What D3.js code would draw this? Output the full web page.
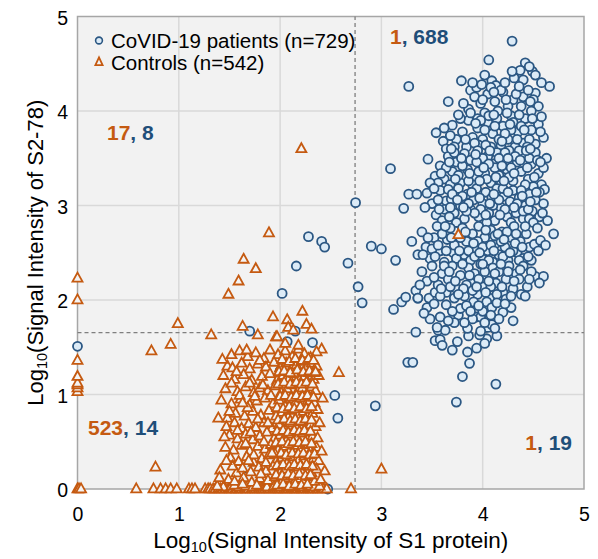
<!DOCTYPE html>
<html><head><meta charset="utf-8">
<script src="https://cdn.jsdelivr.net/npm/d3@7/dist/d3.min.js"></script>
<style>body{margin:0;background:#fff}svg{display:block}text{font-family:"Liberation Sans",Arial,sans-serif}</style>
</head><body><svg id="c" width="598" height="559"></svg>
<script>
// ---------- DATA ----------
const xTicks = [0,1,2,3,4,5];
const yTicks = [0,1,2,3,4,5];
const cutX = 2.74, cutY = 1.654;
const legendLabels = ["CoVID-19 patients (n=729)", "Controls (n=542)"];
const quadLabels = [
  {q:"UR", ctrl:"1", pat:"688"},
  {q:"UL", ctrl:"17", pat:"8"},
  {q:"LL", ctrl:"523", pat:"14"},
  {q:"LR", ctrl:"1", pat:"19"}
];
// Patients: scattered points
const patientsScatter = [
[0,1.51],[1.70,1.67],[2.15,1.67],[2.02,2.07],[2.16,2.36],[2.28,2.67],[2.41,2.62],[2.44,2.56],[2.67,2.39],
[2.07,1.56],[2.32,1.55],[2.00,1.25],[2.07,1.19],[2.15,1.19],[2.32,1.19],[2.54,0.99],[2.57,0.75],[2.17,0.59],
[1.67,0.22],[2.47,0.0],[2.25,0.90],[2.10,0.45],
[2.745,3.03],[2.77,2.14],[2.81,1.97],[2.90,2.57],[3.00,2.54],[3.09,3.39],[3.14,2.42],[3.12,1.90],[3.20,1.98],[3.24,2.03],
[2.94,0.88],[3.74,0.92],[4.13,1.11],[3.80,1.19],[3.87,1.33],[3.26,1.34],[3.31,1.34],[3.85,1.45],[3.94,1.49],[3.70,1.47],
[3.75,1.56],[3.53,1.57],[3.58,1.58],[4.04,1.59],[4.14,1.62],[3.97,1.63],[3.86,1.62],[3.60,1.52],[4.02,1.54]
];
// Patients: main cluster (upper right)
const patientsTop = [
[4.29,4.74],[4.06,4.54],[4.42,4.51],[4.37,4.43],[4.49,4.42],[4.31,4.35],[4.40,4.33],[4.46,4.47],[4.52,4.38],[3.79,4.32],
[4.66,4.26],[4.02,4.38],[4.09,4.32],[3.27,4.26],[3.88,4.22],[3.94,4.25],[4.13,4.27],[4.20,4.20],[4.40,4.15],[4.52,4.19],
[4.50,4.12],[4.30,4.12],[4.58,4.30],
[3.66,4.10],[3.86,4.02],[3.92,4.15],[3.98,4.08],[4.05,4.18],[4.12,4.10],[4.18,4.22],[4.25,4.05],[4.33,4.18],[4.45,4.22],
[4.55,4.05],[4.48,4.00],[4.02,3.98],[4.15,4.00],[4.28,3.95],[4.38,4.05],[3.95,3.92],[4.22,4.30],[4.08,4.25],[3.99,4.28]
];
const patientsUpper = [
[3.54,3.77],[3.61,3.68],[3.64,3.60],[3.74,3.70],[3.70,3.85],[3.80,3.78],[3.86,3.90],[3.90,3.72],[3.95,3.82],[4.00,3.70],
[4.05,3.88],[4.10,3.76],[4.14,3.92],[4.20,3.84],[4.25,3.70],[4.30,3.88],[4.35,3.78],[4.42,3.92],[4.48,3.80],[4.55,3.86],
[4.60,3.72],[4.52,3.65],[4.40,3.66],[4.32,3.62],[4.18,3.64],[4.08,3.62],[3.96,3.64],[3.84,3.62],[3.78,3.92],[3.88,3.98],
[4.24,3.98],[4.46,3.70],[4.02,3.80],[4.16,3.70],[4.36,3.96],[3.92,3.66],[4.28,3.80],[4.12,3.84],[3.72,3.62],[4.58,3.94],
[4.44,3.62],[3.68,3.74],[4.06,3.95],[4.38,3.84],[3.98,3.90],[4.22,3.76],
[3.46,3.49],[3.53,3.31],[3.58,3.42],[3.62,3.28],[3.66,3.52],[3.70,3.36],[3.74,3.46],[3.78,3.24],[3.82,3.55],[3.85,3.38],
[3.88,3.48],[3.92,3.30],[3.95,3.58],[3.98,3.42],[4.02,3.34],[4.05,3.52],[4.08,3.24],[4.10,3.44],[4.14,3.56],[4.16,3.32],
[4.20,3.48],[4.24,3.38],[4.26,3.58],[4.30,3.26],[4.34,3.46],[4.38,3.36],[4.40,3.54],[4.45,3.28],[4.48,3.44],[4.52,3.56],
[4.55,3.34],[4.60,3.40],[4.63,3.50],[4.58,3.22],[4.50,3.20],[4.42,3.22],[4.36,3.58],[4.28,3.40],[4.18,3.22],[4.12,3.40],
[4.00,3.50],[3.90,3.22],[3.80,3.42],[3.72,3.56],[3.64,3.40],[3.56,3.24],[4.04,3.28],[4.22,3.56],[3.96,3.36],[4.32,3.52],
[4.46,3.50],[3.86,3.26],[4.06,3.44],[4.26,3.30],[4.44,3.40],[3.76,3.32],[3.68,3.22],[4.54,3.48],[3.94,3.46],[4.16,3.50]
];
const patientsMiddle = [
[3.22,2.97],[3.27,3.12],[3.35,3.12],[3.45,3.13],[3.48,3.24],[3.50,3.02],[3.54,2.90],[3.58,3.16],[3.60,2.84],[3.64,3.05],
[3.66,3.17],[3.69,3.07],[3.72,2.92],[3.76,3.18],[3.78,3.00],[3.82,2.86],[3.85,3.12],[3.88,2.96],[3.91,3.06],[3.94,3.18],
[3.96,2.88],[4.00,3.02],[4.03,3.14],[4.06,2.92],[4.09,3.08],[4.12,2.84],[4.14,3.18],[4.18,2.98],[4.21,3.10],[4.24,2.88],
[4.27,3.04],[4.30,3.16],[4.33,2.92],[4.36,3.08],[4.40,2.86],[4.42,3.00],[4.46,3.12],[4.49,2.94],[4.52,3.06],[4.56,2.88],
[4.60,3.02],[4.61,3.17],[4.64,2.84],[3.62,2.96],[3.74,2.82],[3.86,3.02],[3.98,2.96],[4.10,3.00],[4.22,2.96],[4.34,3.02],
[4.46,2.86],[4.56,3.14],[3.80,3.10],[3.92,2.92],[4.04,2.82],[4.16,3.06],[4.28,2.82],[4.38,3.16],[4.50,2.82],[3.70,3.12],
[3.56,3.06],[4.20,3.18],[3.84,2.94],[4.40,2.94],
[3.30,2.62],[3.36,2.48],[3.40,2.72],[3.44,2.56],[3.48,2.44],[3.52,2.66],[3.55,2.78],[3.58,2.52],[3.62,2.40],[3.65,2.64],
[3.68,2.76],[3.71,2.50],[3.72,2.58],[3.80,2.76],[3.82,2.48],[3.84,2.62],[3.88,2.42],[3.90,2.70],[3.93,2.54],[3.96,2.78],
[3.99,2.44],[4.02,2.66],[4.05,2.52],[4.08,2.74],[4.10,2.40],[4.13,2.60],[4.16,2.48],[4.19,2.72],[4.22,2.56],[4.25,2.42],
[4.28,2.66],[4.31,2.78],[4.34,2.50],[4.37,2.62],[4.40,2.44],[4.43,2.70],[4.46,2.56],[4.51,2.59],[4.57,2.63],[4.70,2.70],
[4.54,2.76],[4.48,2.42],[3.95,2.62],[4.06,2.42],[4.18,2.62],[4.30,2.52],[4.42,2.78],[3.86,2.52],[3.74,2.44],[3.64,2.52],
[3.50,2.54],[4.00,2.56],[4.12,2.68],[4.24,2.72],[4.36,2.42],[3.92,2.46],[4.20,2.46],[3.78,2.66],[3.60,2.70],[4.08,2.58],[4.32,2.60]
];
const patientsLower = [
[3.34,2.10],[3.36,2.02],[3.47,2.02],[3.53,2.08],[3.64,2.08],[3.40,2.30],[3.45,2.20],[3.50,2.36],[3.56,2.16],[3.60,2.28],
[3.66,2.22],[3.70,2.36],[3.74,2.12],[3.78,2.26],[3.82,2.04],[3.86,2.34],[3.89,2.18],[3.92,2.28],[3.95,2.06],[3.98,2.38],
[4.01,2.14],[4.04,2.26],[4.07,2.02],[4.10,2.34],[4.13,2.18],[4.16,2.30],[4.20,2.08],[4.23,2.22],[4.26,2.36],[4.30,2.12],
[4.33,2.28],[4.36,2.22],[4.40,2.36],[4.44,2.14],[4.52,2.25],[4.60,2.25],[4.23,2.01],[4.48,2.30],[3.58,2.04],[3.72,2.02],
[3.84,2.16],[3.96,2.22],[4.08,2.14],[4.18,2.38],[4.28,2.04],[3.62,2.36],[3.80,2.38],[4.02,2.30],[4.14,2.06],[3.90,2.10],
[4.38,2.06],[3.68,2.14],
[3.34,1.66],[3.56,1.68],[3.63,1.68],[3.55,1.71],[3.85,1.70],[4.05,1.71],[4.09,1.74],[3.94,1.82],[3.98,1.82],[3.90,1.80],
[3.76,1.84],[3.78,1.91],[3.64,1.95],[3.91,1.98],[4.04,1.98],[4.09,1.92],[4.14,1.97],[4.20,1.87],[3.45,1.92],[3.70,1.88],
[3.84,1.94],[4.00,1.88],[4.16,1.80],[4.28,1.92],[4.30,1.78],[4.02,1.76],[3.72,1.76],[3.48,1.80],[3.36,2.02],[3.98,1.67]
];
const patientsExtra = [
[3.62,3.82],[3.76,3.96],[3.83,3.70],[3.93,3.87],[4.03,3.64],[4.11,3.96],[4.19,3.68],[4.27,3.86],[4.34,3.70],[4.41,3.80],
[4.49,3.92],[4.57,3.78],[3.81,4.08],[3.90,4.30],[4.00,4.12],[4.11,4.20],[4.23,4.12],[4.36,4.26],[4.47,4.10],[4.29,4.42],
[3.59,3.34],[3.67,3.46],[3.73,3.28],[3.79,3.50],[3.87,3.34],[3.93,3.54],[4.01,3.40],[4.07,3.58],[4.13,3.30],[4.19,3.42],
[4.25,3.50],[4.31,3.34],[4.37,3.48],[4.43,3.58],[4.51,3.30],[4.57,3.46],[4.47,3.60],[3.97,3.26],[4.21,3.26],[3.69,3.60],
[3.43,2.98],[3.52,3.18],[3.57,2.96],[3.67,2.88],[3.75,3.06],[3.81,2.98],[3.89,3.14],[3.97,3.08],[4.03,2.90],[4.11,3.12],
[4.17,2.90],[4.25,3.14],[4.31,2.98],[4.39,3.10],[4.45,2.96],[4.53,3.14],[4.59,2.92],[3.68,2.98],[4.07,3.02],[4.47,3.04],
[3.46,2.66],[3.56,2.58],[3.63,2.78],[3.69,2.66],[3.77,2.52],[3.83,2.72],[3.91,2.60],[3.97,2.50],[4.03,2.74],[4.11,2.52],
[4.15,2.70],[4.21,2.64],[4.27,2.50],[4.33,2.70],[4.39,2.56],[4.45,2.46],[4.55,2.52],[4.62,2.58],[3.53,2.46],[3.41,2.48],
[3.38,2.16],[3.52,2.24],[3.59,2.12],[3.67,2.30],[3.73,2.20],[3.81,2.12],[3.87,2.26],[3.94,2.14],[4.00,2.38],[4.06,2.20],
[4.12,2.28],[4.19,2.14],[4.25,2.30],[4.31,2.20],[4.37,2.32],[4.46,2.22],[4.56,2.18],[3.76,2.06],[4.03,2.08],[4.42,2.04],
[3.42,1.86],[3.58,1.82],[3.66,1.78],[3.82,1.76],[3.88,1.88],[3.96,1.94],[4.08,1.84],[4.22,1.96],[3.52,1.96],[4.12,1.70]
];
// Controls
const controlsAxis = [[0,0],[0.015,0],[0.035,0],[0,1.03],[0,1.07],[0,1.10],[0,1.12],[0,1.19],[0,1.36],[0,2.00],[0,2.23]];
const controlsScatter = [
[0.73,1.46],[0.92,1.53],[0.77,0.23],[0.99,1.75],[1.32,1.63],[1.96,1.61],[2.41,1.48],[2.58,1.23],[2.70,0],[3.00,0.21],[3.76,2.69],
[1.89,2.71],[1.64,2.43],[1.76,2.33],[1.59,2.20],[1.49,2.06],[1.63,1.72],[1.93,1.82],[2.22,1.88],[2.07,1.79],[2.26,1.74],
[2.08,1.71],[2.21,3.60],[2.31,1.69],[2.13,1.68],[1.78,1.63],[1.97,1.61]
];
const controlsBottom = [
[0.58,0],[0.75,0],[0.82,0],[0.87,0],[0.92,0],[0.98,0],[1.10,0],[1.13,0],[1.16,0],[1.26,0],[1.29,0],[1.31,0],[1.34,0],
[1.36,0],[1.39,0],[1.41,0],[1.43,0],[1.46,0],[1.49,0],[1.51,0],[1.53,0],[1.56,0],[1.57,0],[1.60,0],[1.62,0],[1.65,0],
[1.67,0],[1.69,0],[1.72,0],[1.74,0],[1.76,0],[1.79,0],[1.81,0],[1.83,0],[1.85,0],[1.88,0],[1.90,0],[1.93,0],[1.95,0],
[1.97,0],[1.99,0],[2.01,0],[2.04,0],[2.06,0],[2.08,0],[2.11,0],[2.13,0],[2.15,0],[2.17,0],[2.20,0],[2.22,0],[2.24,0],
[2.27,0],[2.29,0],[2.31,0],[2.33,0],[2.36,0],[2.38,0],[2.41,0],[2.43,0],[2.46,0],
[1.44,0.02],[1.52,0.03],[1.59,0.02],[1.66,0.03],[1.73,0.02],[1.80,0.03],[1.87,0.02],[1.94,0.03],[2.00,0.02],[2.07,0.03],
[2.12,0.02],[2.18,0.03],[2.23,0.02],[2.28,0.03],[2.34,0.02],[2.39,0.03],[1.38,0.03],[1.55,0.04],[1.78,0.04],[2.10,0.04]
];
const controlsBand = [
[1.52,1.42],[1.60,1.46],[1.68,1.40],[1.76,1.44],[1.84,1.38],[1.90,1.47],[1.98,1.42],[2.05,1.46],[2.12,1.40],[2.18,1.48],[2.24,1.43],[2.30,1.39],[2.36,1.45],
[1.48,1.30],[1.53,1.28],[1.62,1.33],[1.70,1.27],[1.78,1.32],[1.86,1.29],[1.94,1.34],[2.00,1.28],[2.06,1.33],[2.11,1.27],[2.16,1.31],[2.21,1.35],[2.26,1.28],[2.31,1.33],[2.36,1.30],
[1.44,1.20],[1.55,1.16],[1.64,1.21],[1.72,1.15],[1.82,1.19],[1.90,1.22],[1.97,1.15],[2.03,1.20],[2.09,1.17],[2.14,1.22],[2.19,1.15],[2.24,1.19],[2.28,1.23],[2.33,1.16],[2.38,1.20],
[1.46,1.06],[1.58,1.03],[1.66,1.08],[1.74,1.02],[1.80,1.07],[1.88,1.04],[1.95,1.09],[2.01,1.02],[2.07,1.06],[2.12,1.10],[2.17,1.03],[2.22,1.07],[2.27,1.01],[2.31,1.08],[2.35,1.04],
[1.42,0.94],[1.52,0.90],[1.61,0.95],[1.70,0.89],[1.77,0.93],[1.85,0.96],[1.93,0.90],[1.99,0.94],[2.05,0.88],[2.10,0.95],[2.15,0.91],[2.20,0.96],[2.25,0.89],[2.29,0.93],[2.34,0.91],
[1.39,0.75],[1.48,0.75],[1.56,0.80],[1.65,0.77],[1.73,0.82],[1.81,0.78],[1.89,0.83],[1.96,0.77],[2.02,0.81],[2.08,0.76],[2.13,0.83],[2.18,0.78],[2.23,0.82],[2.27,0.76],[2.32,0.80],[2.37,0.84],
[1.47,0.66],[1.55,0.70],[1.62,0.64],[1.69,0.69],[1.76,0.65],[1.84,0.70],[1.92,0.64],[1.99,0.68],[2.05,0.63],[2.10,0.70],[2.16,0.66],[2.21,0.71],[2.26,0.64],[2.30,0.68],[2.35,0.66],
[1.50,0.57],[1.58,0.53],[1.66,0.58],[1.73,0.52],[1.80,0.56],[1.87,0.60],[1.94,0.53],[2.00,0.57],[2.06,0.51],[2.11,0.58],[2.17,0.54],[2.22,0.59],[2.27,0.52],[2.32,0.56],[2.37,0.54],
[1.46,0.44],[1.54,0.41],[1.62,0.46],[1.70,0.40],[1.78,0.45],[1.85,0.42],[1.91,0.47],[1.98,0.41],[2.04,0.45],[2.09,0.39],[2.15,0.46],[2.20,0.42],[2.25,0.47],[2.30,0.40],[2.36,0.44],
[1.51,0.33],[1.59,0.29],[1.67,0.34],[1.74,0.28],[1.82,0.32],[1.89,0.36],[1.96,0.29],[2.02,0.33],[2.07,0.27],[2.13,0.34],[2.18,0.30],[2.24,0.35],[2.28,0.28],[2.33,0.32],[2.38,0.30],
[1.41,0.20],[1.57,0.17],[1.63,0.22],[1.71,0.18],[1.79,0.23],[1.86,0.19],[1.93,0.24],[2.00,0.17],[2.05,0.21],[2.11,0.16],[2.16,0.23],[2.21,0.19],[2.26,0.24],[2.31,0.17],[2.36,0.21],[2.44,0.19],
[1.49,0.10],[1.55,0.08],[1.64,0.12],[1.72,0.07],[1.80,0.11],[1.88,0.09],[1.95,0.13],[2.02,0.08],[2.08,0.12],[2.14,0.07],[2.19,0.11],[2.24,0.09],[2.29,0.13],[2.34,0.08],[2.40,0.10]
];
const controlsDense = [
[2.02,1.37],[2.09,1.35],[2.15,1.38],[2.22,1.36],[2.28,1.38],[2.33,1.36],
[1.99,1.24],[2.04,1.25],[2.10,1.23],[2.17,1.26],[2.23,1.24],[2.29,1.25],[2.34,1.23],
[1.98,1.11],[2.04,1.13],[2.10,1.11],[2.16,1.13],[2.21,1.11],[2.26,1.13],[2.32,1.11],
[2.00,0.98],[2.05,0.99],[2.11,0.97],[2.16,0.99],[2.22,0.98],[2.27,0.99],[2.33,0.97],
[1.97,0.86],[2.03,0.85],[2.09,0.87],[2.14,0.85],[2.20,0.87],[2.26,0.85],[2.31,0.87],
[1.98,0.73],[2.04,0.74],[2.10,0.72],[2.15,0.74],[2.20,0.72],[2.25,0.74],[2.31,0.73],
[1.97,0.61],[2.03,0.62],[2.08,0.60],[2.14,0.62],[2.19,0.61],[2.24,0.62],[2.30,0.61],
[1.96,0.49],[2.02,0.50],[2.08,0.48],[2.13,0.50],[2.19,0.49],[2.25,0.50],[2.31,0.48],
[1.95,0.37],[2.01,0.38],[2.06,0.36],[2.12,0.38],[2.18,0.37],[2.23,0.38],[2.29,0.36],[2.34,0.37],
[1.97,0.25],[2.03,0.26],[2.09,0.24],[2.14,0.26],[2.20,0.25],[2.26,0.26],[2.32,0.24],
[1.96,0.15],[2.02,0.14],[2.08,0.16],[2.13,0.14],[2.19,0.16],[2.25,0.14],[2.30,0.15],
[1.97,0.04],[2.03,0.05],[2.09,0.03],[2.15,0.05],[2.21,0.04],[2.27,0.05],
[1.52,1.12],[1.60,0.99],[1.68,0.86],[1.75,0.98],[1.58,0.62],[1.66,0.48],[1.74,0.36],[1.84,0.50],[1.63,0.05],[1.77,0.04],
[1.86,0.28],[1.45,0.55],[1.70,1.12],[1.80,1.36],[1.88,0.70],[1.53,0.24],
[1.43,1.37],[1.57,1.24],[1.67,1.47],[1.83,1.10],[1.91,0.99],[1.78,0.74],[1.63,0.91],[1.50,0.82],[1.71,0.60],[1.92,0.38],
[1.81,0.16],[1.69,0.30],[1.47,0.30],[1.40,0.12],[2.35,1.24],[2.39,0.70],[2.41,0.40],[2.42,0.96],[2.18,1.52],[2.05,1.54]
];

// ---------- DRAW ----------
const svg = d3.select("#c");
const x = d3.scaleLinear().domain([0,5]).range([77.5,584]);
const y = d3.scaleLinear().domain([0,5]).range([489,16.5]);
const ORANGE = "#c55a11", BLUE = "#1f4e79", CSTROKE = "#2b5783", CFILL = "#dcebf7";

svg.append("rect").attr("x",x(0)).attr("y",y(5)).attr("width",x(5)-x(0)).attr("height",y(0)-y(5)).attr("fill","#f2f2f2");
const grid = svg.append("g");
grid.selectAll("line.v").data(xTicks.slice(1,-1)).join("line")
  .attr("x1",d=>x(d)).attr("x2",d=>x(d)).attr("y1",y(0)).attr("y2",y(5))
  .attr("stroke","#d9d9d9").attr("stroke-width",1.5);
grid.selectAll("line.h").data(yTicks.slice(1,-1)).join("line")
  .attr("y1",d=>y(d)).attr("y2",d=>y(d)).attr("x1",x(0)).attr("x2",x(5))
  .attr("stroke","#d9d9d9").attr("stroke-width",1.5);
svg.append("rect").attr("x",x(0)).attr("y",y(5)).attr("width",x(5)-x(0)).attr("height",y(0)-y(5))
  .attr("fill","none").attr("stroke","#a6a6a6").attr("stroke-width",1.5);

// dashed cut lines
svg.append("line").attr("x1",x(cutX)).attr("x2",x(cutX)).attr("y1",y(0)).attr("y2",y(5))
  .attr("stroke","#7f7f7f").attr("stroke-width",1.3).attr("stroke-dasharray","4,3");
svg.append("line").attr("x1",x(0)).attr("x2",x(5)).attr("y1",y(cutY)).attr("y2",y(cutY))
  .attr("stroke","#7f7f7f").attr("stroke-width",1.3).attr("stroke-dasharray","4,3");

// points
const patients = [].concat(patientsScatter, patientsTop, patientsUpper, patientsMiddle, patientsLower, patientsExtra);
const controls = [].concat(controlsAxis, controlsScatter, controlsBottom, controlsBand, controlsDense);
svg.append("g").selectAll("circle").data(patients).join("circle")
  .attr("cx",d=>x(d[0])).attr("cy",d=>y(d[1])).attr("r",4.5)
  .attr("fill",CFILL).attr("stroke",CSTROKE).attr("stroke-width",1.8);
const tri = "M0,-5.6L5,3.4L-5,3.4Z";
svg.append("g").selectAll("path").data(controls).join("path")
  .attr("d",tri).attr("transform",d=>`translate(${x(d[0])},${y(d[1])})`)
  .attr("fill","#f4f4f4").attr("stroke",ORANGE).attr("stroke-width",1.8).attr("stroke-linejoin","miter");

// axes
const xa = svg.append("g").attr("transform",`translate(0,${y(0)})`)
  .call(d3.axisBottom(x).tickValues(xTicks).tickFormat(d3.format("d")).tickSize(0).tickPadding(18));
const ya = svg.append("g").attr("transform",`translate(${x(0)},0)`)
  .call(d3.axisLeft(y).tickValues(yTicks).tickFormat(d3.format("d")).tickSize(0).tickPadding(9.5));
[xa,ya].forEach(a=>{a.select(".domain").remove(); a.selectAll("text").attr("font-size",19.5).attr("fill","#000").attr("font-family",'"Liberation Sans",Arial,sans-serif');});
ya.selectAll("text").attr("dy","0.4em");

// axis titles
const xt = svg.append("text").attr("x",(x(0)+x(5))/2).attr("y",548).attr("text-anchor","middle").attr("font-size",22.5).attr("fill","#000");
xt.append("tspan").text("Log");
xt.append("tspan").text("10").attr("font-size",14.5).attr("dy",4);
xt.append("tspan").text("(Signal Intensity of S1 protein)").attr("dy",-4);
const yt = svg.append("text").attr("transform",`translate(43,${(y(0)+y(5))/2}) rotate(-90)`).attr("text-anchor","middle").attr("font-size",22).attr("fill","#000");
yt.append("tspan").text("Log");
yt.append("tspan").text("10").attr("font-size",14.5).attr("dy",4);
yt.append("tspan").text("(Signal Intensity of S2-78)").attr("dy",-4);

// legend
const lg = svg.append("g");
lg.append("circle").attr("cx",99).attr("cy",40.5).attr("r",3.4).attr("fill",CFILL).attr("stroke",CSTROKE).attr("stroke-width",1.6);
lg.append("path").attr("d","M0,-4.6L3.6,3.2L-3.6,3.2Z").attr("transform","translate(99,62)").attr("fill","#f4f4f4").attr("stroke",ORANGE).attr("stroke-width",1.8);
lg.selectAll("text").data(legendLabels).join("text")
  .attr("x",111).attr("y",(d,i)=>48+i*21.5).attr("font-size",20.5).attr("fill","#000").text(d=>d);

// quadrant labels
const qpos = {UR:[390,44,"start"], UL:[107,140,"start"], LL:[88,435,"start"], LR:[572,450,"end"]};
quadLabels.forEach(q=>{
  const p = qpos[q.q];
  const t = svg.append("text").attr("x",p[0]).attr("y",p[1]).attr("text-anchor",p[2]).attr("font-size",21).attr("font-weight","bold");
  t.append("tspan").attr("fill",ORANGE).text(q.ctrl);
  t.append("tspan").attr("fill",BLUE).text(", " + q.pat);
});
</script></body></html>
